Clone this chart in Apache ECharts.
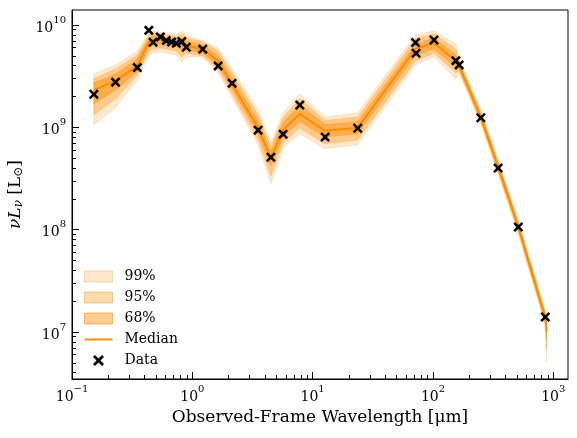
<!DOCTYPE html>
<html><head><meta charset="utf-8">
<script src="https://cdn.jsdelivr.net/npm/echarts@6/dist/echarts.min.js"></script>
<style>html,body{margin:0;padding:0;background:#fff}#c{width:577px;height:438px}</style>
</head><body><div id="c"></div>
<script>
// Observed data points (wavelength in micron, nuLnu in Lsun)
const dataX = [0.152, 0.23, 0.349, 0.435, 0.472, 0.542, 0.608, 0.673, 0.736, 0.818, 0.891, 1.22, 1.64, 2.14, 3.52, 4.5, 5.68, 7.82, 12.7, 23.7, 71.6, 72.4, 102, 155, 165, 250, 348, 512, 858];
const dataY = [2.10e9, 2.76e9, 3.83e9, 8.86e9, 6.78e9, 7.64e9, 7.03e9, 6.82e9, 6.63e9, 6.90e9, 6.06e9, 5.80e9, 3.98e9, 2.69e9, 9.38e8, 5.10e8, 8.57e8, 1.65e9, 8.02e8, 9.80e8, 6.72e9, 5.29e9, 7.14e9, 4.48e9, 4.07e9, 1.24e9, 3.99e8, 1.06e8, 1.40e7];

// Model SED: median and credible bands
const modelX = [0.152, 0.23, 0.349, 0.435, 0.472, 0.542, 0.608, 0.673, 0.736, 0.818, 0.891, 1.22, 1.64, 2.14, 3.52, 4.5, 5.68, 7.82, 12.7, 23.7, 71.6, 102, 155, 165, 250, 348, 512, 858, 880];
const median = [2.32e9, 2.84e9, 3.98e9, 6.82e9, 7.14e9, 7.14e9, 6.98e9, 6.82e9, 6.67e9, 6.67e9, 6.24e9, 5.83e9, 4.45e9, 2.65e9, 9.87e8, 5.03e8, 9.44e8, 1.35e9, 9.23e8, 9.87e8, 5.83e9, 6.67e9, 4.45e9, 3.98e9, 1.26e9, 4.11e8, 1.07e8, 1.38e7, 1.01e7];
const lo99 = [1.06e9, 1.55e9, 2.90e9, 5.10e9, 5.33e9, 5.45e9, 5.33e9, 5.21e9, 5.10e9, 4.35e9, 4.87e9, 4.87e9, 3.40e9, 1.94e9, 6.74e8, 2.80e8, 6.30e8, 8.63e8, 6.16e8, 6.74e8, 4.07e9, 4.87e9, 2.97e9, 3.40e9, 1.08e9, 3.51e8, 9.11e7, 1.18e7, 5.13e6];
const hi99 = [3.32e9, 4.07e9, 5.57e9, 8.35e9, 8.74e9, 8.55e9, 8.35e9, 8.17e9, 7.99e9, 8.74e9, 7.99e9, 6.98e9, 5.96e9, 3.72e9, 1.48e9, 7.05e8, 1.38e9, 2.12e9, 1.26e9, 1.38e9, 7.99e9, 8.74e9, 6.52e9, 4.66e9, 1.48e9, 4.81e8, 1.25e8, 1.61e7, 1.38e7];
const lo95 = [1.32e9, 1.90e9, 3.25e9, 5.57e9, 5.83e9, 5.96e9, 5.83e9, 5.70e9, 5.57e9, 4.87e9, 5.33e9, 4.98e9, 3.72e9, 2.12e9, 7.54e8, 3.36e8, 7.05e8, 9.87e8, 6.89e8, 7.54e8, 4.45e9, 5.33e9, 3.40e9, 3.56e9, 1.13e9, 3.67e8, 9.53e7, 1.23e7, 6.72e6];
const hi95 = [2.97e9, 3.72e9, 5.10e9, 7.99e9, 8.35e9, 8.17e9, 7.99e9, 7.81e9, 7.64e9, 8.17e9, 7.47e9, 6.82e9, 5.57e9, 3.40e9, 1.32e9, 6.44e8, 1.24e9, 1.90e9, 1.16e9, 1.26e9, 7.30e9, 8.17e9, 5.83e9, 4.45e9, 1.41e9, 4.60e8, 1.19e8, 1.54e7, 1.32e7];
const lo68 = [1.69e9, 2.32e9, 3.48e9, 6.10e9, 6.38e9, 6.52e9, 6.38e9, 6.24e9, 6.10e9, 5.70e9, 5.70e9, 5.33e9, 3.98e9, 2.37e9, 8.63e8, 4.20e8, 8.07e8, 1.13e9, 8.07e8, 8.63e8, 5.10e9, 5.83e9, 3.89e9, 3.72e9, 1.18e9, 3.84e8, 9.97e7, 1.29e7, 8.41e6];
const hi68 = [2.72e9, 3.32e9, 4.66e9, 7.47e9, 7.81e9, 7.64e9, 7.47e9, 7.30e9, 7.14e9, 7.47e9, 6.98e9, 6.38e9, 4.98e9, 3.04e9, 1.16e9, 5.76e8, 1.11e9, 1.66e9, 1.06e9, 1.13e9, 6.52e9, 7.47e9, 5.10e9, 4.26e9, 1.35e9, 4.40e8, 1.14e8, 1.48e7, 1.23e7];

// Axis ticks
const xMajor = [0.1, 1, 10, 100, 1000];
const xMinor = [0.2,0.3,0.4,0.5,0.6,0.7,0.8,0.9, 2,3,4,5,6,7,8,9, 20,30,40,50,60,70,80,90, 200,300,400,500,600,700,800,900];
const yMajor = [1e7, 1e8, 1e9, 1e10];
const yMinor = [4e6,5e6,6e6,7e6,8e6,9e6, 2e7,3e7,4e7,5e7,6e7,7e7,8e7,9e7, 2e8,3e8,4e8,5e8,6e8,7e8,8e8,9e8, 2e9,3e9,4e9,5e9,6e9,7e9,8e9,9e9];
const xRange = [0.1, 1325];
const yRange = [3.47e6, 1.4e10];

const FONT = 'DejaVu Serif';
const ORANGE = '#ff8c00';
const C99 = 'rgba(255,140,0,0.2)';
const C95 = 'rgba(255,140,0,0.32)';
const C68 = 'rgba(255,140,0,0.44)';

function powLabel(v) {
  const e = Math.round(Math.log10(v));
  return '{b|10}{sup|' + (e < 0 ? '\u2212' + (-e) : e) + '}';
}
const labelRich = {
  b: {fontFamily: FONT, fontSize: 14, lineHeight: 20, verticalAlign: 'bottom', color: '#000'},
  sup: {fontFamily: FONT, fontSize: 10, lineHeight: 10, verticalAlign: 'top', color: '#000'}
};

function band(name, lo, hi, color) {
  return {
    type: 'custom', name: name, xAxisIndex: 0, yAxisIndex: 0, clip: true,
    data: modelX.map((x, i) => [x, lo[i], hi[i]]),
    encode: {x: 0, y: [1, 2]},
    itemStyle: {color: color},
    renderItem: function (params, api) {
      if (params.dataIndex !== 0) return null;
      const top = [], bot = [];
      for (let i = 0; i < modelX.length; i++) {
        top.push(api.coord([modelX[i], hi[i]]));
        bot.push(api.coord([modelX[i], lo[i]]));
      }
      return {type: 'polygon', shape: {points: top.concat(bot.reverse())},
              style: {fill: color, stroke: color, lineWidth: 0.8}};
    }
  };
}

const chart = echarts.init(document.getElementById('c'), null, {renderer: 'canvas'});
chart.setOption({
  animation: false,
  backgroundColor: '#fff',
  grid: {left: 72, right: 9, top: 10, bottom: 59, show: true, borderColor: '#000', borderWidth: 1,
         containLabel: false, outerBoundsMode: 'none'},
  xAxis: [{
    type: 'log', logBase: 10, min: xRange[0], max: xRange[1], position: 'bottom',
    name: 'Observed-Frame Wavelength [\u03bcm]', nameLocation: 'middle', nameGap: 27,
    nameTextStyle: {fontFamily: FONT, fontSize: 17, color: '#000'},
    axisLine: {show: true, lineStyle: {color: '#000', width: 1}},
    axisTick: {show: true, inside: true, length: 7, customValues: xMajor, lineStyle: {color: '#000', width: 1}},
    axisLabel: {show: true, margin: 5, customValues: xMajor, formatter: powLabel, rich: labelRich},
    splitLine: {show: false}, minorTick: {show: false}
  }, {
    type: 'log', logBase: 10, min: xRange[0], max: xRange[1], position: 'bottom', gridIndex: 0,
    axisLine: {show: false},
    axisTick: {show: true, inside: true, length: 4, customValues: xMinor, lineStyle: {color: '#000', width: 1}},
    axisLabel: {show: false}, splitLine: {show: false}
  }],
  yAxis: [{
    type: 'log', logBase: 10, min: yRange[0], max: yRange[1], position: 'left',
    name: '{i|\u03bdL}{s|\u03bd}{r| [L}{s2|\u2299}{r|]}', nameLocation: 'middle', nameGap: 33, nameRotate: 90,
    nameTextStyle: {fontFamily: FONT, fontSize: 17, color: '#000', lineHeight: 24,
      rich: {
        i: {fontFamily: FONT, fontStyle: 'italic', fontSize: 17, lineHeight: 24, verticalAlign: 'bottom', color: '#000'},
        s: {fontFamily: FONT, fontStyle: 'italic', fontSize: 12, lineHeight: 12, verticalAlign: 'bottom', color: '#000'},
        s2: {fontFamily: FONT, fontSize: 12, lineHeight: 12, verticalAlign: 'bottom', color: '#000'},
        r: {fontFamily: FONT, fontSize: 17, lineHeight: 24, verticalAlign: 'bottom', color: '#000'}
      }},
    axisLine: {show: true, lineStyle: {color: '#000', width: 1}},
    axisTick: {show: true, inside: true, length: 7, customValues: yMajor, lineStyle: {color: '#000', width: 1}},
    axisLabel: {show: true, margin: 6, customValues: yMajor, formatter: powLabel, rich: labelRich},
    splitLine: {show: false}, minorTick: {show: false}
  }, {
    type: 'log', logBase: 10, min: yRange[0], max: yRange[1], position: 'left', gridIndex: 0,
    axisLine: {show: false},
    axisTick: {show: true, inside: true, length: 4, customValues: yMinor, lineStyle: {color: '#000', width: 1}},
    axisLabel: {show: false}, splitLine: {show: false}
  }],
  legend: {
    orient: 'vertical', left: 84, top: 269, padding: 0, itemWidth: 28, itemHeight: 11, itemGap: 6,
    selectedMode: false,
    textStyle: {fontFamily: FONT, fontSize: 14, color: '#000', lineHeight: 15, padding: [0, 0, 0, 7]},
    data: [
      {name: '99%', icon: 'rect', itemStyle: {color: C99, borderColor: 'rgba(255,140,0,0.3)', borderWidth: 1}},
      {name: '95%', icon: 'rect', itemStyle: {color: C95, borderColor: 'rgba(255,140,0,0.42)', borderWidth: 1}},
      {name: '68%', icon: 'rect', itemStyle: {color: C68, borderColor: 'rgba(255,140,0,0.55)', borderWidth: 1}},
      {name: 'Median', icon: 'path://M0,0 L28,0 L28,2 L0,2 Z', itemStyle: {color: ORANGE}},
      {name: 'Data'}
    ]
  },
  series: [
    band('99%', lo99, hi99, C99),
    band('95%', lo95, hi95, C95),
    band('68%', lo68, hi68, C68),
    {
      type: 'line', name: 'Median', xAxisIndex: 0, yAxisIndex: 0,
      data: modelX.map((x, i) => [x, median[i]]),
      symbol: 'none', lineStyle: {color: ORANGE, width: 2}, itemStyle: {color: ORANGE}, z: 3
    },
    {
      type: 'scatter', name: 'Data', xAxisIndex: 0, yAxisIndex: 0,
      data: dataX.map((x, i) => [x, dataY[i]]),
      symbol: 'path://M0,1.8 L1.8,0 L5,3.2 L8.2,0 L10,1.8 L6.8,5 L10,8.2 L8.2,10 L5,6.8 L1.8,10 L0,8.2 L3.2,5 Z',
      symbolSize: 10, itemStyle: {color: '#000', opacity: 1}, z: 4
    }
  ]
});
</script>
</body></html>
